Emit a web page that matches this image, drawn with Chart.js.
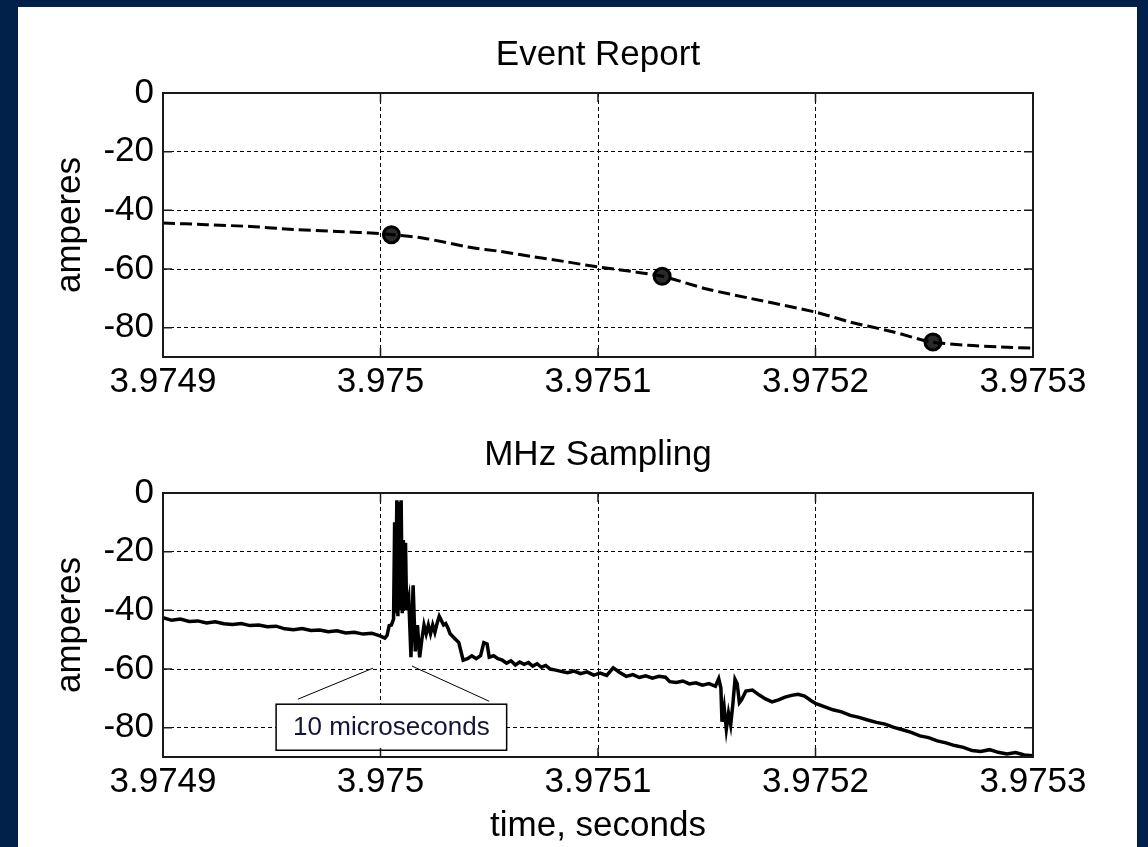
<!DOCTYPE html>
<html>
<head>
<meta charset="utf-8">
<script src="https://cdn.jsdelivr.net/npm/chart.js@4.4.0/dist/chart.umd.min.js"></script>
<style>
  html, body { margin: 0; padding: 0; background: #01214a; }
  #panel { position: absolute; left: 18px; top: 7px; width: 1119px; height: 840px; background: #fff; }
  #eventChart { position: absolute; left: 0; top: 0; }
  #mhzChart { position: absolute; left: 0; top: 413px; }
</style>
</head>
<body>
<div id="panel">
  <canvas id="eventChart" width="1119" height="413"></canvas>
  <canvas id="mhzChart" width="1119" height="427"></canvas>
</div>
<script>
// time axis: microseconds after t0, in seconds on the axis
const t0 = 3.9749;
const xTickValues = [3.9749, 3.975, 3.9751, 3.9752, 3.9753];
const xTickLabels = ['3.9749', '3.975', '3.9751', '3.9752', '3.9753'];
const yTickValues = [0, -20, -40, -60, -80];
const yTickLabels = ['0', '-20', '-40', '-60', '-80'];
const yMin = -90;
const yMax = 0;

// event report: interpolated trace and the recorded samples
const evtUs = [0, 20, 40, 60, 80, 100, 106, 120, 141, 155, 170, 185, 200, 215, 229, 250, 270, 300, 316, 335, 353, 370, 385, 400];
const evtAmps = [-44.3, -44.9, -45.5, -46.5, -47.2, -47.9, -48.3, -49.5, -52.6, -54.0, -55.8, -57.5, -59.3, -60.8, -62.4, -66.8, -70.0, -74.7, -78.1, -81.3, -84.8, -86.0, -86.6, -87.0];
const sampleUs = [105, 229.5, 354];
const sampleAmps = [-48.3, -62.5, -84.9];

// MHz sampled current
const mhzUs = [
  0, 4, 8, 12, 16, 20, 24, 28, 32, 36, 40, 44, 48, 52, 56, 60, 64, 68, 72, 76, 80, 84, 88, 92, 96, 100,
  102, 103, 104, 105, 106, 106.5, 107, 107.5, 108, 108.5, 109, 109.5, 110, 110.5, 111, 111.5,
  112, 113, 114, 115, 116, 117, 118, 119, 120,
  121, 122, 123, 124, 125, 126, 127, 128, 129, 130,
  131, 132, 134, 136, 138, 140, 142, 144, 146, 147.5, 149, 150, 152, 154, 156, 158, 160, 162, 164,
  166, 168, 170, 172, 174, 176, 178,
  180, 183, 186, 189, 192, 195, 198, 201, 204, 207, 210, 213, 216, 219, 222, 225, 228, 231, 233,
  236, 239, 242, 245, 248, 251, 254, 255.5, 256.5, 257, 258, 259, 260, 261, 262, 263, 264, 265, 266,
  268, 271, 274, 277, 280, 283, 286, 289, 292, 295, 298,
  300, 304, 308, 312, 316, 320, 324, 328, 332, 336, 340, 344, 348, 352, 356, 360, 364, 368, 372,
  376, 380, 384, 388, 392, 396, 400
];
const mhzAmps = [
  -42.5, -43.4, -43.0, -43.8, -43.6, -44.3, -43.9, -44.6, -44.8, -44.5, -45.2, -45.0, -45.6, -45.4,
  -46.3, -46.6, -46.2, -46.9, -46.7, -47.3, -47.0, -47.7, -47.5, -48.1, -47.8, -48.8,
  -49.5, -48.6, -45.2, -45.0, -43, -10, -41, -2.5, -42, -3, -40, -2.5, -41, -16, -40, -17,
  -40, -36, -56, -31.5, -54, -45, -56, -50, -45,
  -48, -45, -48, -45, -47.5, -44.5, -42, -43.5, -45, -44.5,
  -46, -48, -49.5, -51, -57, -56.5, -55.5, -56.5, -55.5, -51, -51.5, -56, -55.5, -56.5, -57, -58,
  -57.2, -58.6, -57.6, -58.4, -57.8, -59, -58.2, -59.4, -58.8, -60,
  -60.3, -60.8, -61.3, -60.7, -61.6, -61.0, -62.1, -61.4, -62.2, -59.6, -61.2, -62.5, -61.9, -62.9,
  -62.3, -63.1, -62.5, -62.8, -64.3, -64.6, -64.1, -65.1, -64.7, -65.5, -65.0, -65.9, -63.3, -66.5,
  -78, -73, -80.5, -75, -79, -72, -63.5, -65, -71.5, -70.5,
  -67.5, -67.2, -68.8, -70.2, -71.2, -70.5, -69.6, -69.0, -68.6, -69.2, -70.8,
  -71.7, -72.8, -73.9, -74.6, -75.8, -76.5, -77.4, -78.2, -78.8, -79.9, -80.7, -81.6, -82.8, -83.4,
  -84.5, -85.2, -86.1, -86.7, -87.8, -88.1, -87.5, -88.4, -89.0, -88.5, -89.3, -89.6
];

// callout under the fault onset (data units: microseconds, amperes)
const noteText = '10 microseconds';
const noteBox = { fromUs: 52, toUs: 158, top: -72.0, bottom: -87.7 };
const noteLeaders = [[62, -70.3, 96.6, -59.7], [114.5, -59.0, 150, -71.0]];

const toPoints = (us, amps) => us.map((u, i) => ({ x: t0 + u * 1e-6, y: amps[i] }));

const FONT = '"Liberation Sans", Arial, sans-serif';
Chart.defaults.font.family = FONT;
Chart.defaults.color = '#000';

// title centred over the plot box rather than the whole canvas
const plotTitlePlugin = {
  id: 'plotTitle',
  afterDraw(chart, args, opts) {
    const { ctx, chartArea: a } = chart;
    ctx.save();
    ctx.font = '35px ' + FONT;
    ctx.fillStyle = '#000';
    ctx.textAlign = 'center';
    ctx.textBaseline = 'middle';
    ctx.fillText(opts.text, (a.left + a.right) / 2, opts.y);
    ctx.restore();
  }
};

// box round the plot with inward tick marks on all four sides
const framePlugin = {
  id: 'frame',
  afterDraw(chart) {
    const { ctx, chartArea: a, scales: { x, y } } = chart;
    ctx.save();
    ctx.strokeStyle = '#1a1a1a';
    ctx.lineWidth = 2;
    ctx.strokeRect(a.left, a.top, a.right - a.left, a.bottom - a.top);
    ctx.lineWidth = 1.5;
    ctx.beginPath();
    x.ticks.forEach(t => {
      const p = x.getPixelForValue(t.value);
      ctx.moveTo(p, a.top); ctx.lineTo(p, a.top + 9);
      ctx.moveTo(p, a.bottom); ctx.lineTo(p, a.bottom - 9);
    });
    y.ticks.forEach(t => {
      const p = y.getPixelForValue(t.value);
      ctx.moveTo(a.left, p); ctx.lineTo(a.left + 9, p);
      ctx.moveTo(a.right, p); ctx.lineTo(a.right - 9, p);
    });
    ctx.stroke();
    ctx.restore();
  }
};

const notePlugin = {
  id: 'note',
  afterDatasetsDraw(chart) {
    const { ctx, scales: { x, y } } = chart;
    const px = us => x.getPixelForValue(t0 + us * 1e-6);
    ctx.save();
    ctx.strokeStyle = '#000';
    ctx.lineWidth = 1;
    ctx.beginPath();
    noteLeaders.forEach(([u1, a1, u2, a2]) => {
      ctx.moveTo(px(u1), y.getPixelForValue(a1));
      ctx.lineTo(px(u2), y.getPixelForValue(a2));
    });
    ctx.stroke();
    const l = px(noteBox.fromUs), r = px(noteBox.toUs);
    const tp = y.getPixelForValue(noteBox.top), bt = y.getPixelForValue(noteBox.bottom);
    ctx.fillStyle = '#fff';
    ctx.fillRect(l, tp, r - l, bt - tp);
    ctx.lineWidth = 1.5;
    ctx.strokeRect(l, tp, r - l, bt - tp);
    ctx.fillStyle = '#14143a';
    ctx.font = '26px ' + FONT;
    ctx.textAlign = 'center';
    ctx.textBaseline = 'middle';
    ctx.fillText(noteText, (l + r) / 2, (tp + bt) / 2 + 1);
    ctx.restore();
  }
};

function makeOptions(title, titleY, topPad, xTitle, xHeight) {
  return {
    responsive: false,
    animation: false,
    layout: { padding: { left: 0, top: topPad, right: 104, bottom: 0 } },
    plugins: {
      legend: { display: false },
      tooltip: { enabled: false },
      title: { display: false },
      plotTitle: { text: title, y: titleY }
    },
    scales: {
      x: {
        type: 'linear',
        min: xTickValues[0],
        max: xTickValues[xTickValues.length - 1],
        afterBuildTicks: s => { s.ticks = xTickValues.map(v => ({ value: v })); },
        afterFit: s => { s.height = xHeight; },
        ticks: {
          callback: (v, i) => xTickLabels[i],
          padding: 4, maxRotation: 0, autoSkip: false,
          font: { size: 35 }, color: '#000'
        },
        grid: { color: '#000', lineWidth: 1, drawTicks: false },
        border: { display: false, dash: [4, 3] },
        title: {
          display: !!xTitle, text: xTitle, color: '#000',
          font: { size: 35 }, padding: { top: 0, bottom: 0 }
        }
      },
      y: {
        min: yMin,
        max: yMax,
        afterBuildTicks: s => { s.ticks = yTickValues.map(v => ({ value: v })); },
        afterFit: s => { s.width = 145; },
        ticks: {
          callback: (v, i) => yTickLabels[i],
          padding: 9, font: { size: 35 }, color: '#000'
        },
        grid: { color: '#000', lineWidth: 1, drawTicks: false },
        border: { display: false, dash: [4, 3] },
        title: {
          display: true, text: 'amperes', color: '#000',
          font: { size: 35 }, padding: { top: 31, bottom: 0 }
        }
      }
    }
  };
}

new Chart(document.getElementById('eventChart'), {
  type: 'line',
  data: {
    datasets: [
      {
        data: toPoints(evtUs, evtAmps),
        borderColor: '#000', borderWidth: 3, borderDash: [12, 5],
        pointRadius: 0, tension: 0.3, fill: false
      },
      {
        data: toPoints(sampleUs, sampleAmps),
        showLine: false,
        pointStyle: 'circle', pointRadius: 8,
        pointBorderWidth: 3, pointBorderColor: '#000', pointBackgroundColor: '#2a2a2a'
      }
    ]
  },
  options: makeOptions('Event Report', 48, 86, '', 63),
  plugins: [plotTitlePlugin, framePlugin]
});

new Chart(document.getElementById('mhzChart'), {
  type: 'line',
  data: {
    datasets: [{
      data: toPoints(mhzUs, mhzAmps),
      borderColor: '#000', borderWidth: 3.5,
      pointRadius: 0, tension: 0, fill: false
    }]
  },
  options: makeOptions('MHz Sampling', 35, 73, 'time, seconds', 90),
  plugins: [plotTitlePlugin, notePlugin, framePlugin]
});
</script>
</body>
</html>
